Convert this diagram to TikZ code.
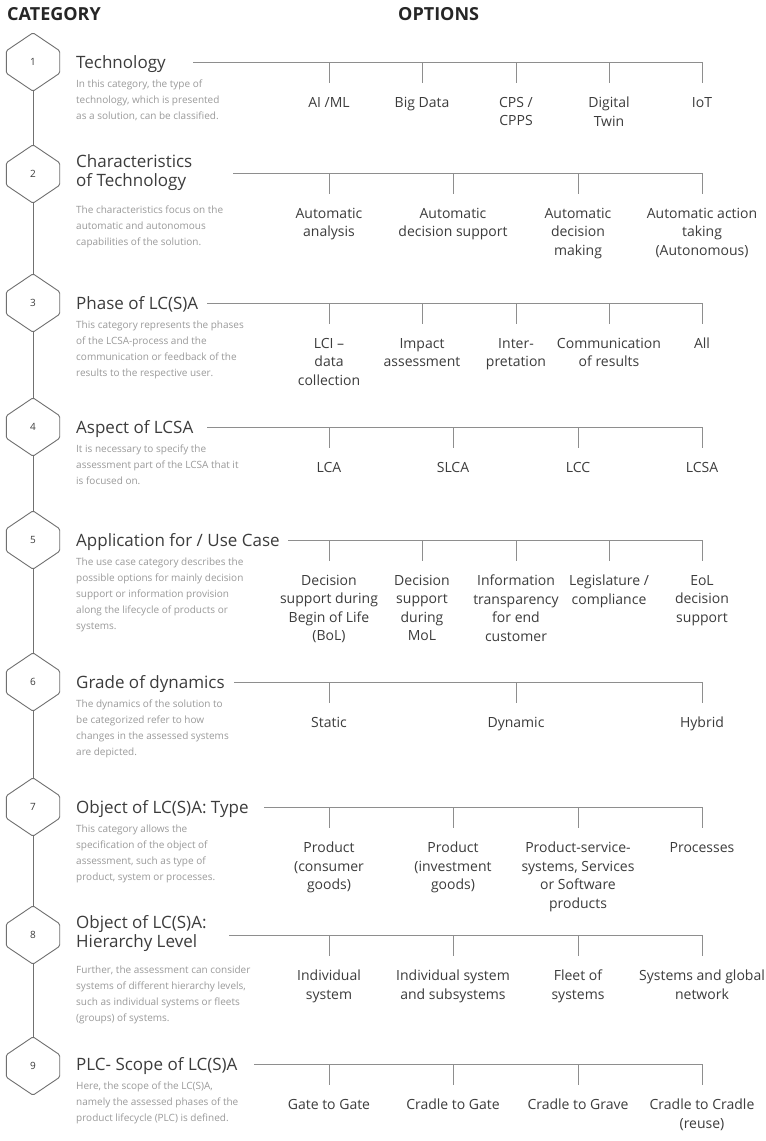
\documentclass[tikz,border=0pt]{standalone}
\usepackage{fontspec}
\setmainfont{Open Sans}
\definecolor{inkgray}{HTML}{3C3C3C}
\definecolor{descgray}{HTML}{9A9A9A}
\definecolor{linegray}{HTML}{8E8E8E}
\definecolor{hexgray}{HTML}{707070}

\begin{document}
\begin{tikzpicture}[
    x=1pt, y=-1pt,
    header/.style={anchor=base west, inner sep=0pt, text=black!85,
                   font=\fontsize{18}{20}\selectfont\bfseries},
    hexa/.style={minimum width=53pt, minimum height=58pt, inner sep=0pt,
                 text=inkgray, font=\fontsize{10}{12}\selectfont},
    hexline/.style={draw=hexgray, line width=0.9pt, rounded corners=1.5pt},
    spine/.style={draw=hexgray, line width=0.9pt},
    cattitle/.style={anchor=base west, inner sep=0pt, align=left, text=inkgray,
                     font=\fontsize{17}{19}\selectfont},
    desc/.style={anchor=north west, inner sep=0pt, align=left, text=descgray,
                 font=\fontsize{10}{16}\selectfont},
    option/.style={anchor=north, inner sep=0pt, align=center, text=inkgray,
                   font=\fontsize{14}{18.5}\selectfont},
    branch/.style={draw=linegray, line width=0.8pt},
    optick/.style={draw=linegray, line width=0.8pt, shorten >=14pt}
]
    \path[fill=white, use as bounding box] (0,0) rectangle (766,1141);

    \node[header] (hcat) at (7,20) {CATEGORY};
    \node[header] (hopt) at (398,20) {OPTIONS};

    % category hexagons
    \node[hexa] (h1) at (33,62) {1};
    \node[hexa] (h2) at (33,174) {2};
    \node[hexa] (h3) at (33,303) {3};
    \node[hexa] (h4) at (33,427) {4};
    \node[hexa] (h5) at (33,540) {5};
    \node[hexa] (h6) at (33,682) {6};
    \node[hexa] (h7) at (33,807) {7};
    \node[hexa] (h8) at (33,935) {8};
    \node[hexa] (h9) at (33,1066) {9};

    \foreach \i in {1,...,9}
        \draw[hexline] (h\i.north) -- ([yshift=-18pt]h\i.north east)
            -- ([yshift=18pt]h\i.south east) -- (h\i.south)
            -- ([yshift=18pt]h\i.south west) -- ([yshift=-18pt]h\i.north west) -- cycle;
    \foreach \i [count=\j from 2] in {1,...,8}
        \draw[spine] (h\i.south) -- (h\j.north);

    % 1 technology
    \node[cattitle] (t1) at (76,68) {Technology};
    \node[desc] (d1) at (76,80) {In this category, the type of\\technology, which is presented\\as a solution, can be classified.};
    \coordinate (s1) at (193,62);
    \node[option] (o1a) at (329,97) {AI /ML};
    \node[option] (o1b) at (422,97) {Big Data};
    \node[option] (o1c) at (516,97) {CPS /\\CPPS};
    \node[option] (o1d) at (609,97) {Digital\\Twin};
    \node[option] (o1e) at (702,97) {IoT};
    \draw[branch] (s1) -- (o1e.north |- s1);
    \foreach \o in {o1a,o1b,o1c,o1d,o1e}
        \draw[optick] (\o.north |- s1) -- (\o.north);

    % 2 characteristics
    \node[cattitle, anchor=west] (t2) at (76,173) {Characteristics\\of Technology};
    \node[desc] (d2) at (76,206) {The characteristics focus on the\\automatic and autonomous\\capabilities of the solution.};
    \coordinate (s2) at (233,173);
    \node[option] (o2a) at (329,208) {Automatic\\analysis};
    \node[option] (o2b) at (453,208) {Automatic\\decision support};
    \node[option] (o2c) at (578,208) {Automatic\\decision\\making};
    \node[option] (o2d) at (702,208) {Automatic action\\taking\\(Autonomous)};
    \draw[branch] (s2) -- (o2d.north |- s2);
    \foreach \o in {o2a,o2b,o2c,o2d}
        \draw[optick] (\o.north |- s2) -- (\o.north);

    % 3 phase
    \node[cattitle] (t3) at (76,309) {Phase of LC(S)A};
    \node[desc] (d3) at (76,321) {This category represents the phases\\of the LCSA-process and the\\communication or feedback of the\\results to the respective user.};
    \coordinate (s3) at (207,303);
    \node[option] (o3a) at (329,338) {LCI –\\data\\collection};
    \node[option] (o3b) at (422,338) {Impact\\assessment};
    \node[option] (o3c) at (516,338) {Inter-\\pretation};
    \node[option] (o3d) at (609,338) {Communication\\of results};
    \node[option] (o3e) at (702,338) {All};
    \draw[branch] (s3) -- (o3e.north |- s3);
    \foreach \o in {o3a,o3b,o3c,o3d,o3e}
        \draw[optick] (\o.north |- s3) -- (\o.north);

    % 4 aspect
    \node[cattitle] (t4) at (76,433) {Aspect of LCSA};
    \node[desc] (d4) at (76,445) {It is necessary to specify the\\assessment part of the LCSA that it\\is focused on.};
    \coordinate (s4) at (207,427);
    \node[option] (o4a) at (329,462) {LCA};
    \node[option] (o4b) at (453,462) {SLCA};
    \node[option] (o4c) at (578,462) {LCC};
    \node[option] (o4d) at (702,462) {LCSA};
    \draw[branch] (s4) -- (o4d.north |- s4);
    \foreach \o in {o4a,o4b,o4c,o4d}
        \draw[optick] (\o.north |- s4) -- (\o.north);

    % 5 use case
    \node[cattitle] (t5) at (76,546) {Application for / Use Case};
    \node[desc] (d5) at (76,558) {The use case category describes the\\possible options for mainly decision\\support or information provision\\along the lifecycle of products or\\systems.};
    \coordinate (s5) at (288,540);
    \node[option] (o5a) at (329,575) {Decision\\support during\\Begin of Life\\(BoL)};
    \node[option] (o5b) at (422,575) {Decision\\support\\during\\MoL};
    \node[option] (o5c) at (516,575) {Information\\transparency\\for end\\customer};
    \node[option] (o5d) at (609,575) {Legislature /\\compliance};
    \node[option] (o5e) at (702,575) {EoL\\decision\\support};
    \draw[branch] (s5) -- (o5e.north |- s5);
    \foreach \o in {o5a,o5b,o5c,o5d,o5e}
        \draw[optick] (\o.north |- s5) -- (\o.north);

    % 6 dynamics
    \node[cattitle] (t6) at (76,688) {Grade of dynamics};
    \node[desc] (d6) at (76,700) {The dynamics of the solution to\\be categorized refer to how\\changes in the assessed systems\\are depicted.};
    \coordinate (s6) at (234,682);
    \node[option] (o6a) at (329,717) {Static};
    \node[option] (o6b) at (516,717) {Dynamic};
    \node[option] (o6c) at (702,717) {Hybrid};
    \draw[branch] (s6) -- (o6c.north |- s6);
    \foreach \o in {o6a,o6b,o6c}
        \draw[optick] (\o.north |- s6) -- (\o.north);

    % 7 object type
    \node[cattitle] (t7) at (76,813) {Object of LC(S)A: Type};
    \node[desc] (d7) at (76,825) {This category allows the\\specification of the object of\\assessment, such as type of\\product, system or processes.};
    \coordinate (s7) at (264,807);
    \node[option] (o7a) at (329,842) {Product\\(consumer\\goods)};
    \node[option] (o7b) at (453,842) {Product\\(investment\\goods)};
    \node[option] (o7c) at (578,842) {Product-service-\\systems, Services\\or Software\\products};
    \node[option] (o7d) at (702,842) {Processes};
    \draw[branch] (s7) -- (o7d.north |- s7);
    \foreach \o in {o7a,o7b,o7c,o7d}
        \draw[optick] (\o.north |- s7) -- (\o.north);

    % 8 hierarchy level
    \node[cattitle, anchor=west] (t8) at (76,934) {Object of LC(S)A:\\Hierarchy Level};
    \node[desc] (d8) at (76,966) {Further, the assessment can consider\\systems of different hierarchy levels,\\such as individual systems or fleets\\(groups) of systems.};
    \coordinate (s8) at (229,935);
    \node[option] (o8a) at (329,970) {Individual\\system};
    \node[option] (o8b) at (453,970) {Individual system\\and subsystems};
    \node[option] (o8c) at (578,970) {Fleet of\\systems};
    \node[option] (o8d) at (702,970) {Systems and global\\network};
    \draw[branch] (s8) -- (o8d.north |- s8);
    \foreach \o in {o8a,o8b,o8c,o8d}
        \draw[optick] (\o.north |- s8) -- (\o.north);

    % 9 scope
    \node[cattitle] (t9) at (76,1070) {PLC- Scope of LC(S)A};
    \node[desc] (d9) at (76,1082) {Here, the scope of the LC(S)A,\\namely the assessed phases of the\\product lifecycle (PLC) is defined.};
    \coordinate (s9) at (254,1064);
    \node[option] (o9a) at (329,1099) {Gate to Gate};
    \node[option] (o9b) at (453,1099) {Cradle to Gate};
    \node[option] (o9c) at (578,1099) {Cradle to Grave};
    \node[option] (o9d) at (702,1099) {Cradle to Cradle\\(reuse)};
    \draw[branch] (s9) -- (o9d.north |- s9);
    \foreach \o in {o9a,o9b,o9c,o9d}
        \draw[optick] (\o.north |- s9) -- (\o.north);
\end{tikzpicture}
\end{document}
